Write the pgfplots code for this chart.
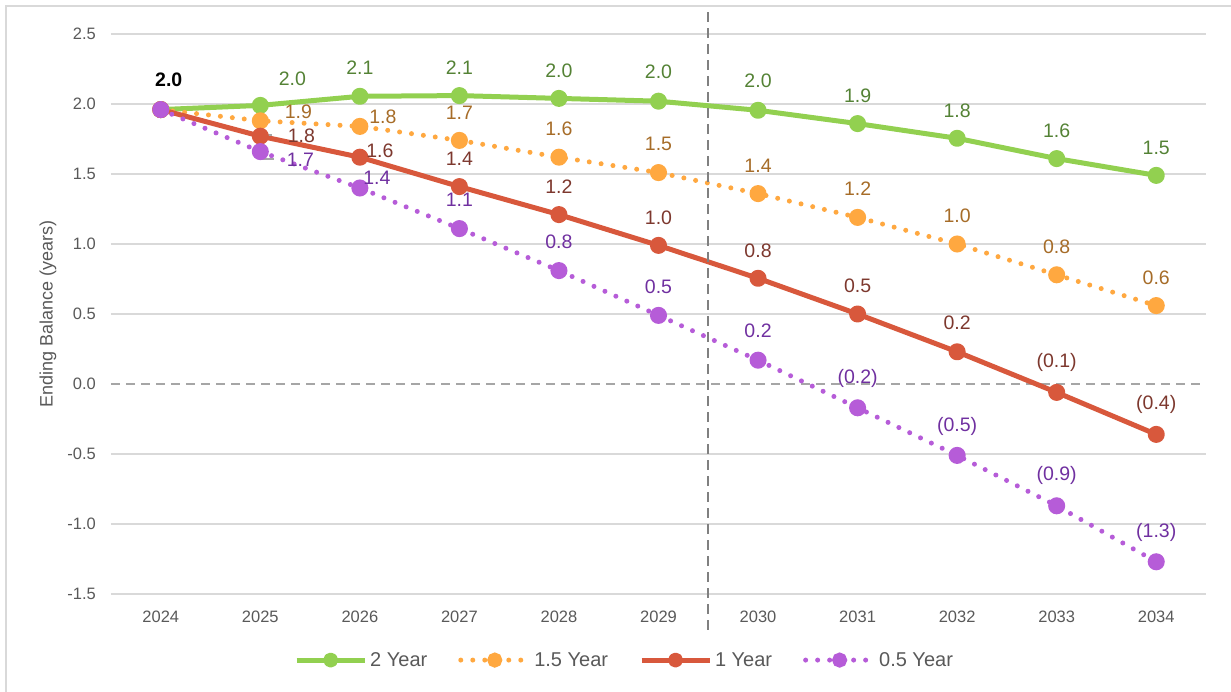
\documentclass[border=0pt]{standalone}
\usepackage{fontspec}
\setmainfont{Liberation Sans}
\usepackage{pgfplots}
\usepackage{pgfplotstable}
\pgfplotsset{compat=1.18}

\definecolor{cTwo}{RGB}{146,208,80}
\definecolor{cOneHalf}{RGB}{255,168,64}
\definecolor{cOne}{RGB}{216,88,60}
\definecolor{cHalf}{RGB}{182,92,216}
\definecolor{lTwo}{RGB}{84,130,53}
\definecolor{lOneHalf}{RGB}{166,108,40}
\definecolor{lOne}{RGB}{125,56,46}
\definecolor{lHalf}{RGB}{112,48,160}
\definecolor{gridgray}{RGB}{217,217,217}
\definecolor{tickgray}{RGB}{89,89,89}
\definecolor{zerogray}{RGB}{166,166,166}
\definecolor{divgray}{RGB}{128,128,128}

% columns: year index, ending balance, printed label, label offset (pt)
\pgfplotstableread{
x y lab dx dy
0 1.96 {} 0 0
1 1.99 2.0 32 27
2 2.055 2.1 0 29
3 2.06 2.1 0 28
4 2.04 2.0 0 28
5 2.02 2.0 0 29
6 1.955 2.0 0 30
7 1.86 1.9 0 28
8 1.755 1.8 0 28
9 1.61 1.6 0 28
10 1.49 1.5 0 28
}\twoyear
\pgfplotstableread{
x y lab dx dy
0 1.96 {} 0 0
1 1.88 1.9 38 9
2 1.84 1.8 23 10
3 1.74 1.7 0 28
4 1.62 1.6 0 28
5 1.51 1.5 0 29
6 1.36 1.4 0 28
7 1.19 1.2 0 29
8 1.00 1.0 0 28
9 0.78 0.8 0 28
10 0.56 0.6 0 28
}\onehalfyear
\pgfplotstableread{
x y lab dx dy
0 1.96 {} 0 0
1 1.77 1.8 41 0
2 1.62 1.6 20 6
3 1.41 1.4 0 28
4 1.21 1.2 0 28
5 0.99 1.0 0 28
6 0.755 0.8 0 28
7 0.50 0.5 0 28
8 0.23 0.2 0 29
9 -0.06 (0.1) 0 30
10 -0.36 (0.4) 0 30
}\oneyear
\pgfplotstableread{
x y lab dx dy
0 1.96 {} 0 0
1 1.66 1.7 40 -8
2 1.40 1.4 17 10
3 1.11 1.1 0 29
4 0.81 0.8 0 29
5 0.49 0.5 0 29
6 0.17 0.2 0 29
7 -0.17 (0.2) 0 29
8 -0.51 (0.5) 0 29
9 -0.87 (0.9) 0 30
10 -1.27 (1.3) 0 29
}\halfyear

\pgfplotsset{
  series/.style={
    mark=*, mark size=6pt, mark options={solid, fill=#1, draw=none},
    nodes near coords, point meta=explicit symbolic,
    visualization depends on={\thisrow{dx}\as\ldx},
    visualization depends on={\thisrow{dy}\as\ldy},
  },
  dotted series/.style={line width=5pt, line cap=round, dash pattern=on 0pt off 12pt},
  solid series/.style={line width=5pt, line join=round},
  lab/.style={nodes near coords style={anchor=center, inner sep=0pt, text=#1,
      font=\fontsize{19.5}{21}\selectfont, xshift=\ldx pt, yshift=\ldy pt}},
}

\begin{document}
\begin{tikzpicture}
\useasboundingbox (-111pt,-98pt) rectangle (1120pt,594pt);
\draw[gridgray, line width=2pt] (-105pt,-98pt) -- (-105pt,588pt) -- (1120pt,588pt);
\begin{axis}[
  scale only axis, width=1095pt, height=560pt,
  xmin=-0.5, xmax=10.5, ymin=-1.5, ymax=2.5,
  clip=false,
  xtick={0,...,10},
  xticklabels={2024,2025,2026,2027,2028,2029,2030,2031,2032,2033,2034},
  ytick={-1.5,-1,-0.5,0.5,1,1.5,2,2.5},
  extra y ticks={0},
  extra y tick style={grid style={draw=zerogray, line width=1.5pt, dash pattern=on 9pt off 6pt}},
  ymajorgrids,
  grid style={draw=gridgray, line width=1.5pt},
  axis line style={draw=none},
  major tick length=0pt,
  /pgf/number format/fixed, /pgf/number format/fixed zerofill,
  /pgf/number format/precision=1, /pgf/number format/assume math mode=true,
  tick label style={font=\fontsize{16.5}{18}\selectfont, text=tickgray},
  yticklabel style={inner sep=0pt, xshift=-15pt},
  xticklabel style={inner sep=0pt, yshift=-17pt},
  ylabel={Ending Balance (years)},
  ylabel style={at={(axis description cs:-0.0575,0.5)}, anchor=center,
    font=\fontsize{18}{20}\selectfont, text=tickgray},
  legend style={at={(axis description cs:0.469,-0.118)}, anchor=center,
    draw=none, fill=none, legend columns=4,
    font=\fontsize{20}{22}\selectfont, text=tickgray,
    nodes={inner xsep=2pt},
    /tikz/every odd column/.append style={column sep=1pt},
    /tikz/every even column/.append style={column sep=29pt}},
  legend image code/.code={\draw[mark repeat=2, mark phase=2, mark size=5pt]
    plot coordinates {(0pt,0pt) (34pt,0pt) (68pt,0pt)};},
]
\addplot[cTwo, solid series, series=cTwo, lab=lTwo] table[x=x, y=y, meta=lab] {\twoyear};
\addlegendentry{2 Year}
\addplot[cOneHalf, dotted series, series=cOneHalf, lab=lOneHalf] table[x=x, y=y, meta=lab] {\onehalfyear};
\addlegendentry{1.5 Year}
\addplot[cOne, solid series, series=cOne, lab=lOne] table[x=x, y=y, meta=lab] {\oneyear};
\addlegendentry{1 Year}
\addplot[cHalf, dotted series, series=cHalf, lab=lHalf] table[x=x, y=y, meta=lab] {\halfyear};
\addlegendentry{0.5 Year}
% shared starting point carries a single label
\addplot[forget plot, draw=none, mark=none, nodes near coords, point meta=explicit symbolic,
  nodes near coords style={anchor=center, inner sep=0pt, text=black,
    font=\fontsize{19.5}{21}\selectfont\bfseries, xshift=8pt, yshift=30pt}]
  coordinates {(0,1.96) [2.0]};
% leader lines of the crowded 2025 labels
\draw[divgray!70, line width=1.5pt] (axis cs:1.02,1.779) -- (axis cs:1.12,1.779);
\draw[divgray!70, line width=1.5pt] (axis cs:1.02,1.686) -- (axis cs:1.02,1.607) -- (axis cs:1.14,1.607);
% projection divider
\draw[divgray, line width=2pt, dash pattern=on 10pt off 6pt] (axis cs:5.5,-1.757) -- (axis cs:5.5,2.657);
\end{axis}
\end{tikzpicture}
\end{document}
